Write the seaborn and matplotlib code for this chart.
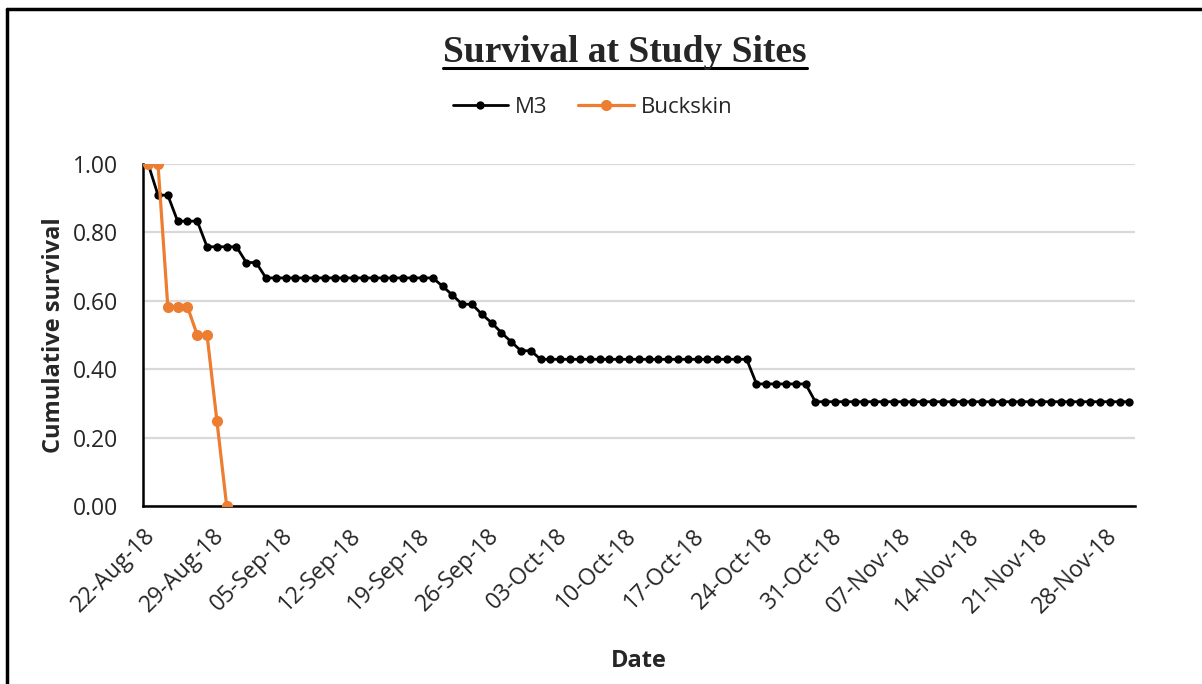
import numpy as np
import pandas as pd
import matplotlib
matplotlib.use("Agg")
import matplotlib.pyplot as plt
import matplotlib.dates as mdates
from matplotlib.lines import Line2D
import seaborn as sns

# cumulative survival, one value per day starting 22-Aug-18
start_date = "2018-08-22"
m3_survival = [
    1.000, 0.909, 0.909, 0.833, 0.833, 0.833, 0.758, 0.758, 0.758, 0.758,
    0.712, 0.712, 0.667, 0.667, 0.667, 0.667, 0.667, 0.667, 0.667, 0.667,
    0.667, 0.667, 0.667, 0.667, 0.667, 0.667, 0.667, 0.667, 0.667, 0.667,
    0.643, 0.617, 0.590, 0.590, 0.561, 0.536, 0.507, 0.480, 0.454, 0.454,
    0.429, 0.429, 0.429, 0.429, 0.429, 0.429, 0.429, 0.429, 0.429, 0.429,
    0.429, 0.429, 0.429, 0.429, 0.429, 0.429, 0.429, 0.429, 0.429, 0.429,
    0.429, 0.429, 0.357, 0.357, 0.357, 0.357, 0.357, 0.357, 0.305, 0.305,
    0.305, 0.305, 0.305, 0.305, 0.305, 0.305, 0.305, 0.305, 0.305, 0.305,
    0.305, 0.305, 0.305, 0.305, 0.305, 0.305, 0.305, 0.305, 0.305, 0.305,
    0.305, 0.305, 0.305, 0.305, 0.305, 0.305, 0.305, 0.305, 0.305, 0.305,
    0.305,
]
buckskin_survival = [1.000, 1.000, 0.583, 0.583, 0.583, 0.500, 0.500, 0.250, 0.000]

tick_dates = ["2018-08-22", "2018-08-29", "2018-09-05", "2018-09-12", "2018-09-19",
              "2018-09-26", "2018-10-03", "2018-10-10", "2018-10-17", "2018-10-24",
              "2018-10-31", "2018-11-07", "2018-11-14", "2018-11-21", "2018-11-28"]
y_ticks = [0.0, 0.2, 0.4, 0.6, 0.8, 1.0]

# points sit between tick marks like excel date axis
half_day = pd.Timedelta(hours=12)
m3 = pd.DataFrame({
    "Date": pd.date_range(start_date, periods=len(m3_survival)) + half_day,
    "Survival": m3_survival,
})
buck = pd.DataFrame({
    "Date": pd.date_range(start_date, periods=len(buckskin_survival)) + half_day,
    "Survival": buckskin_survival,
})

sns.set_style("white")
plt.rcParams["font.family"] = ["Open Sans", "DejaVu Sans"]

fig = plt.figure(figsize=(12.02, 6.84), dpi=100)
ax = fig.add_axes([0.1192, 0.2602, 0.8251, 0.5])

orange = "#ED7D31"
sns.lineplot(data=m3, x="Date", y="Survival", ax=ax, color="black", linewidth=2,
             marker="o", markersize=6, markeredgewidth=0, label="M3", zorder=3)
sns.lineplot(data=buck, x="Date", y="Survival", ax=ax, color=orange, linewidth=2.3,
             marker="o", markersize=8, markeredgewidth=0, label="Buckskin", zorder=4)

ax.set_xlim(pd.Timestamp(start_date), pd.Timestamp("2018-12-01 02:00"))
ax.set_ylim(0, 1)
ax.set_xticks(pd.to_datetime(tick_dates))
ax.xaxis.set_major_formatter(mdates.DateFormatter("%d-%b-%y"))
ax.set_yticks(y_ticks)
ax.set_yticklabels([f"{v:.2f}" for v in y_ticks])
ax.grid(axis="y", color="#D9D9D9", linewidth=1.6)
ax.set_axisbelow(True)

for s in ["top", "right"]:
    ax.spines[s].set_visible(False)
for s in ["left", "bottom"]:
    ax.spines[s].set_color("black")
    ax.spines[s].set_linewidth(1.8)
ax.tick_params(axis="both", direction="out", length=6, width=1.5, color="black",
               labelsize=16.5)
ax.tick_params(axis="y", pad=12)
ax.tick_params(axis="x", pad=7)
plt.setp(ax.get_xticklabels(), rotation=45, ha="right", rotation_mode="anchor")

ax.set_xlabel("Date", fontsize=17, fontweight="bold", labelpad=22)
ax.set_ylabel("Cumulative survival", fontsize=17, fontweight="bold", labelpad=5)

ax.legend(loc="upper center", bbox_to_anchor=(0.453, 1.255), ncol=2, frameon=False,
          fontsize=16, handlelength=2.5, columnspacing=1.4, handletextpad=0.3)

title = fig.text(0.52, 0.923, "Survival at Study Sites", ha="center", va="center",
                 fontsize=27, fontweight="bold", family="Liberation Serif")

# underline under the title
fig.canvas.draw()
bb = title.get_window_extent()
fig.add_artist(Line2D([bb.x0 / 1202, bb.x1 / 1202], [(684 - 68) / 684] * 2,
                      transform=fig.transFigure, color="black", linewidth=2.2))

# chart border (only top and left fall inside the picture)
fig.add_artist(Line2D([6.5 / 1202, 1.0], [(684 - 8.5) / 684] * 2,
                      transform=fig.transFigure, color="black", linewidth=2.5))
fig.add_artist(Line2D([6.5 / 1202] * 2, [0, (684 - 8.5) / 684],
                      transform=fig.transFigure, color="black", linewidth=2.5))

fig.savefig("out.png", dpi=100)
